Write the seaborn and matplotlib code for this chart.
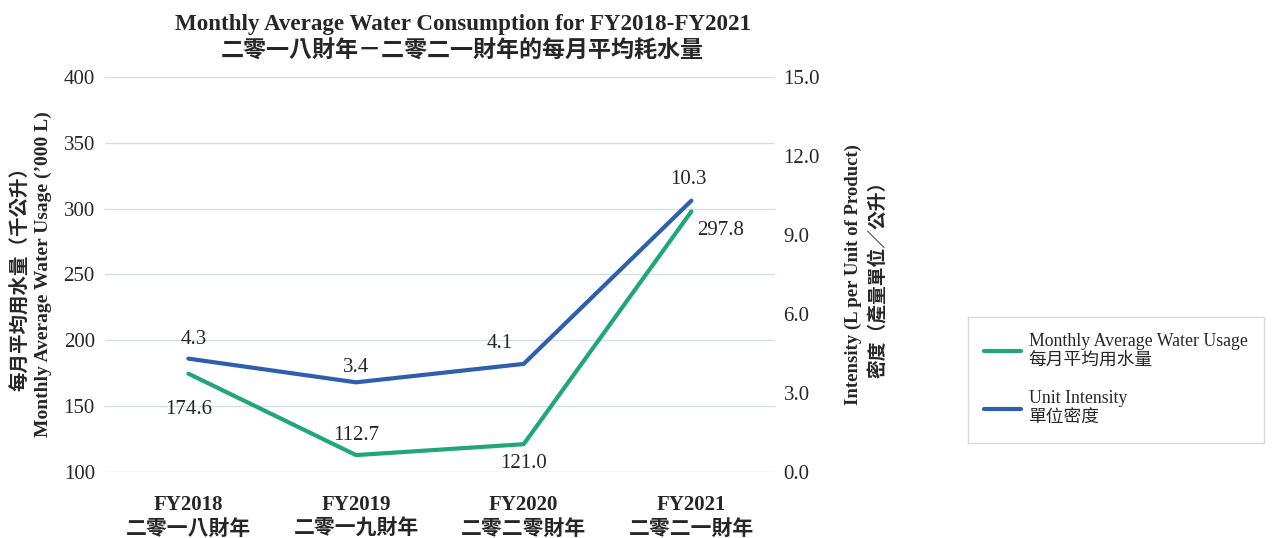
import pandas as pd
import seaborn as sns
import matplotlib.pyplot as plt

# data
years = ["FY2018\n二零一八財年", "FY2019\n二零一九財年", "FY2020\n二零二零財年", "FY2021\n二零二一財年"]
water_usage = [174.6, 112.7, 121.0, 297.8]
unit_intensity = [4.3, 3.4, 4.1, 10.3]

green = "#21A67A"
blue = "#2E5FAE"
fonts = ["Liberation Serif", "Noto Sans CJK TC", "DejaVu Sans"]

sns.set_style("white")
plt.rcParams["font.family"] = fonts

df = pd.DataFrame({"year": years, "usage": water_usage, "intensity": unit_intensity})
df["x"] = range(len(df))

fig = plt.figure(figsize=(12.75, 5.38), dpi=100)
ax = fig.add_axes([0.082, 0.123, 0.526, 0.734])
ax2 = ax.twinx()

sns.lineplot(data=df, x="x", y="usage", ax=ax, color=green, linewidth=3,
             label="Monthly Average Water Usage\n每月平均用水量", legend=False)
sns.lineplot(data=df, x="x", y="intensity", ax=ax2, color=blue, linewidth=3,
             label="Unit Intensity\n單位密度", legend=False)

ax.set_xlim(-0.5, 3.5)
ax.set_ylim(100, 400)
ax.set_yticks(range(100, 401, 50))
ax2.set_ylim(0, 15)
ax2.set_yticks([0, 3, 6, 9, 12, 15])
ax2.set_yticklabels([f"{v:.1f}" for v in [0, 3, 6, 9, 12, 15]])

ax.set_xticks(df["x"])
ax.set_xticklabels(years, fontsize=15, fontweight="bold", linespacing=1.3)
ax.tick_params(axis="y", labelsize=15, length=0, pad=7)
ax2.tick_params(axis="y", labelsize=15, length=0, pad=6)
ax.tick_params(axis="x", length=0, pad=17)

ax.grid(axis="y", color="#D5DEE8", linewidth=1)
for a in (ax, ax2):
    for s in a.spines.values():
        s.set_visible(False)

ax.set_xlabel("")
ax.set_ylabel("每月平均用水量（千公升）\nMonthly Average Water Usage (’000 L)",
              fontsize=14, fontweight="bold", labelpad=8, linespacing=1.4)
ax2.set_ylabel("Intensity (L per Unit of Product)\n密度（產量單位／公升）",
               fontsize=13.5, fontweight="bold", labelpad=18, linespacing=1.4)

# value labels
usage_offsets = [(0, -26), (0, 14), (0, -14), (21, -14)]
for x, v, off in zip(df["x"], water_usage, usage_offsets):
    ax.annotate(f"{v:.1f}", (x, v), xytext=off, textcoords="offset points",
                ha="center", va="center", fontsize=15)
intensity_offsets = [(4, 14), (0, 11), (-17, 15), (-2, 15)]
for x, v, off in zip(df["x"], unit_intensity, intensity_offsets):
    ax2.annotate(f"{v:.1f}", (x, v), xytext=off, textcoords="offset points",
                 ha="center", va="center", fontsize=15)

ax.set_title("Monthly Average Water Consumption for FY2018-FY2021\n二零一八財年－二零二一財年的每月平均耗水量",
             fontsize=16.6, fontweight="bold", pad=14, linespacing=1.3, x=0.534)

h1, l1 = ax.get_legend_handles_labels()
h2, l2 = ax2.get_legend_handles_labels()
leg = fig.legend(h1 + h2, l1 + l2, loc="center left", bbox_to_anchor=(0.752, 0.294),
                 fontsize=12.75, frameon=True, fancybox=False, edgecolor="#D0D0D0",
                 handlelength=2.1, labelspacing=1.2, borderpad=0.9, handletextpad=0.45)
leg.get_frame().set_linewidth(1)

fig.savefig("out.png", dpi=100)
